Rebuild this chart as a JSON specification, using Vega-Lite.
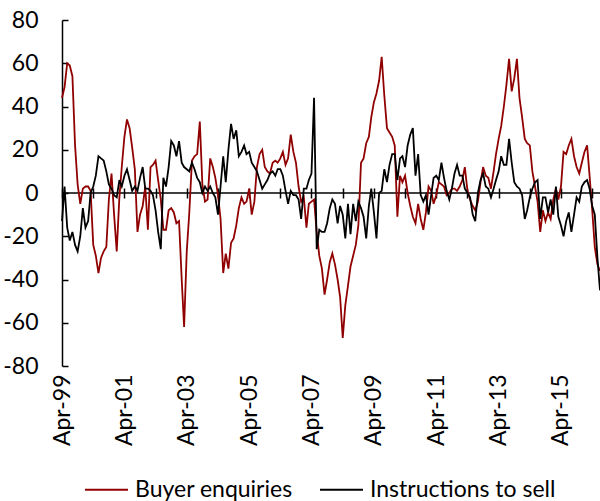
{
"$schema": "https://vega.github.io/schema/vega-lite/v6.json",
"autosize": {"type": "none"},
"padding": {"left": 62, "top": 20, "right": 0, "bottom": 135},
"width": 538,
"height": 346,
"background": "white",
"config": {"view": {"stroke": null}, "font": "Lato", "axis": {"grid": false}},
"data": {"values": [
{"month":"1999-04","Buyer enquiries":44,"Instructions to sell":-13},
{"month":"1999-05","Buyer enquiries":49,"Instructions to sell":3},
{"month":"1999-06","Buyer enquiries":60,"Instructions to sell":-16},
{"month":"1999-07","Buyer enquiries":59,"Instructions to sell":-22},
{"month":"1999-08","Buyer enquiries":54,"Instructions to sell":-18},
{"month":"1999-09","Buyer enquiries":22,"Instructions to sell":-24},
{"month":"1999-10","Buyer enquiries":4,"Instructions to sell":-27},
{"month":"1999-11","Buyer enquiries":-5,"Instructions to sell":-20},
{"month":"1999-12","Buyer enquiries":2,"Instructions to sell":-7},
{"month":"2000-01","Buyer enquiries":3,"Instructions to sell":-16},
{"month":"2000-02","Buyer enquiries":3,"Instructions to sell":-13},
{"month":"2000-03","Buyer enquiries":1,"Instructions to sell":0},
{"month":"2000-04","Buyer enquiries":-24,"Instructions to sell":3},
{"month":"2000-05","Buyer enquiries":-29,"Instructions to sell":8},
{"month":"2000-06","Buyer enquiries":-37,"Instructions to sell":17},
{"month":"2000-07","Buyer enquiries":-30,"Instructions to sell":16},
{"month":"2000-08","Buyer enquiries":-27,"Instructions to sell":15},
{"month":"2000-09","Buyer enquiries":-25,"Instructions to sell":10},
{"month":"2000-10","Buyer enquiries":-3,"Instructions to sell":4},
{"month":"2000-11","Buyer enquiries":9,"Instructions to sell":2},
{"month":"2000-12","Buyer enquiries":-10,"Instructions to sell":-1},
{"month":"2001-01","Buyer enquiries":-27,"Instructions to sell":-2},
{"month":"2001-02","Buyer enquiries":-2,"Instructions to sell":6},
{"month":"2001-03","Buyer enquiries":12,"Instructions to sell":3},
{"month":"2001-04","Buyer enquiries":26,"Instructions to sell":8},
{"month":"2001-05","Buyer enquiries":34,"Instructions to sell":11},
{"month":"2001-06","Buyer enquiries":30,"Instructions to sell":6},
{"month":"2001-07","Buyer enquiries":21,"Instructions to sell":1},
{"month":"2001-08","Buyer enquiries":11,"Instructions to sell":3},
{"month":"2001-09","Buyer enquiries":-18,"Instructions to sell":1},
{"month":"2001-10","Buyer enquiries":-10,"Instructions to sell":7},
{"month":"2001-11","Buyer enquiries":-6,"Instructions to sell":12},
{"month":"2001-12","Buyer enquiries":3,"Instructions to sell":2},
{"month":"2002-01","Buyer enquiries":-17,"Instructions to sell":2},
{"month":"2002-02","Buyer enquiries":12,"Instructions to sell":1},
{"month":"2002-03","Buyer enquiries":13,"Instructions to sell":-1},
{"month":"2002-04","Buyer enquiries":15,"Instructions to sell":-8},
{"month":"2002-05","Buyer enquiries":6,"Instructions to sell":-18},
{"month":"2002-06","Buyer enquiries":-3,"Instructions to sell":-26},
{"month":"2002-07","Buyer enquiries":-17,"Instructions to sell":7},
{"month":"2002-08","Buyer enquiries":-17,"Instructions to sell":3},
{"month":"2002-09","Buyer enquiries":-8,"Instructions to sell":12},
{"month":"2002-10","Buyer enquiries":-7,"Instructions to sell":24},
{"month":"2002-11","Buyer enquiries":-9,"Instructions to sell":22},
{"month":"2002-12","Buyer enquiries":-14,"Instructions to sell":17},
{"month":"2003-01","Buyer enquiries":-13,"Instructions to sell":24},
{"month":"2003-02","Buyer enquiries":-40,"Instructions to sell":14},
{"month":"2003-03","Buyer enquiries":-62,"Instructions to sell":12},
{"month":"2003-04","Buyer enquiries":-27,"Instructions to sell":11},
{"month":"2003-05","Buyer enquiries":-9,"Instructions to sell":10},
{"month":"2003-06","Buyer enquiries":15,"Instructions to sell":14},
{"month":"2003-07","Buyer enquiries":17,"Instructions to sell":11},
{"month":"2003-08","Buyer enquiries":18,"Instructions to sell":7},
{"month":"2003-09","Buyer enquiries":33,"Instructions to sell":5},
{"month":"2003-10","Buyer enquiries":4,"Instructions to sell":0},
{"month":"2003-11","Buyer enquiries":-4,"Instructions to sell":3},
{"month":"2003-12","Buyer enquiries":-3,"Instructions to sell":1},
{"month":"2004-01","Buyer enquiries":16,"Instructions to sell":3},
{"month":"2004-02","Buyer enquiries":12,"Instructions to sell":0},
{"month":"2004-03","Buyer enquiries":7,"Instructions to sell":-2},
{"month":"2004-04","Buyer enquiries":-1,"Instructions to sell":-10},
{"month":"2004-05","Buyer enquiries":-12,"Instructions to sell":3},
{"month":"2004-06","Buyer enquiries":-37,"Instructions to sell":17},
{"month":"2004-07","Buyer enquiries":-28,"Instructions to sell":5},
{"month":"2004-08","Buyer enquiries":-35,"Instructions to sell":20},
{"month":"2004-09","Buyer enquiries":-23,"Instructions to sell":32},
{"month":"2004-10","Buyer enquiries":-21,"Instructions to sell":25},
{"month":"2004-11","Buyer enquiries":-15,"Instructions to sell":29},
{"month":"2004-12","Buyer enquiries":-7,"Instructions to sell":17},
{"month":"2005-01","Buyer enquiries":-2,"Instructions to sell":19},
{"month":"2005-02","Buyer enquiries":-5,"Instructions to sell":22},
{"month":"2005-03","Buyer enquiries":-4,"Instructions to sell":18},
{"month":"2005-04","Buyer enquiries":2,"Instructions to sell":19},
{"month":"2005-05","Buyer enquiries":-10,"Instructions to sell":14},
{"month":"2005-06","Buyer enquiries":-4,"Instructions to sell":12},
{"month":"2005-07","Buyer enquiries":12,"Instructions to sell":10},
{"month":"2005-08","Buyer enquiries":18,"Instructions to sell":6},
{"month":"2005-09","Buyer enquiries":20,"Instructions to sell":2},
{"month":"2005-10","Buyer enquiries":12,"Instructions to sell":4},
{"month":"2005-11","Buyer enquiries":10,"Instructions to sell":6},
{"month":"2005-12","Buyer enquiries":9,"Instructions to sell":9},
{"month":"2006-01","Buyer enquiries":14,"Instructions to sell":10},
{"month":"2006-02","Buyer enquiries":15,"Instructions to sell":8},
{"month":"2006-03","Buyer enquiries":14,"Instructions to sell":11},
{"month":"2006-04","Buyer enquiries":16,"Instructions to sell":11},
{"month":"2006-05","Buyer enquiries":19,"Instructions to sell":8},
{"month":"2006-06","Buyer enquiries":13,"Instructions to sell":1},
{"month":"2006-07","Buyer enquiries":16,"Instructions to sell":-5},
{"month":"2006-08","Buyer enquiries":27,"Instructions to sell":1},
{"month":"2006-09","Buyer enquiries":19,"Instructions to sell":-1},
{"month":"2006-10","Buyer enquiries":14,"Instructions to sell":-1},
{"month":"2006-11","Buyer enquiries":3,"Instructions to sell":-3},
{"month":"2006-12","Buyer enquiries":-4,"Instructions to sell":-12},
{"month":"2007-01","Buyer enquiries":-2,"Instructions to sell":2},
{"month":"2007-02","Buyer enquiries":-16,"Instructions to sell":2},
{"month":"2007-03","Buyer enquiries":-5,"Instructions to sell":6},
{"month":"2007-04","Buyer enquiries":-4,"Instructions to sell":9},
{"month":"2007-05","Buyer enquiries":-3,"Instructions to sell":44},
{"month":"2007-06","Buyer enquiries":-18,"Instructions to sell":-26},
{"month":"2007-07","Buyer enquiries":-29,"Instructions to sell":-17},
{"month":"2007-08","Buyer enquiries":-35,"Instructions to sell":-18},
{"month":"2007-09","Buyer enquiries":-47,"Instructions to sell":-18},
{"month":"2007-10","Buyer enquiries":-40,"Instructions to sell":-14},
{"month":"2007-11","Buyer enquiries":-32,"Instructions to sell":-7},
{"month":"2007-12","Buyer enquiries":-28,"Instructions to sell":-3},
{"month":"2008-01","Buyer enquiries":-33,"Instructions to sell":-5},
{"month":"2008-02","Buyer enquiries":-40,"Instructions to sell":-14},
{"month":"2008-03","Buyer enquiries":-48,"Instructions to sell":-6},
{"month":"2008-04","Buyer enquiries":-67,"Instructions to sell":-10},
{"month":"2008-05","Buyer enquiries":-52,"Instructions to sell":-21},
{"month":"2008-06","Buyer enquiries":-43,"Instructions to sell":-5},
{"month":"2008-07","Buyer enquiries":-34,"Instructions to sell":-19},
{"month":"2008-08","Buyer enquiries":-29,"Instructions to sell":-5},
{"month":"2008-09","Buyer enquiries":-24,"Instructions to sell":-13},
{"month":"2008-10","Buyer enquiries":-15,"Instructions to sell":-4},
{"month":"2008-11","Buyer enquiries":14,"Instructions to sell":-7},
{"month":"2008-12","Buyer enquiries":16,"Instructions to sell":-11},
{"month":"2009-01","Buyer enquiries":23,"Instructions to sell":-21},
{"month":"2009-02","Buyer enquiries":26,"Instructions to sell":-6},
{"month":"2009-03","Buyer enquiries":35,"Instructions to sell":2},
{"month":"2009-04","Buyer enquiries":42,"Instructions to sell":-9},
{"month":"2009-05","Buyer enquiries":46,"Instructions to sell":-21},
{"month":"2009-06","Buyer enquiries":52,"Instructions to sell":0},
{"month":"2009-07","Buyer enquiries":63,"Instructions to sell":1},
{"month":"2009-08","Buyer enquiries":45,"Instructions to sell":11},
{"month":"2009-09","Buyer enquiries":30,"Instructions to sell":5},
{"month":"2009-10","Buyer enquiries":28,"Instructions to sell":13},
{"month":"2009-11","Buyer enquiries":26,"Instructions to sell":18},
{"month":"2009-12","Buyer enquiries":22,"Instructions to sell":18},
{"month":"2010-01","Buyer enquiries":-11,"Instructions to sell":6},
{"month":"2010-02","Buyer enquiries":8,"Instructions to sell":16},
{"month":"2010-03","Buyer enquiries":5,"Instructions to sell":17},
{"month":"2010-04","Buyer enquiries":8,"Instructions to sell":12},
{"month":"2010-05","Buyer enquiries":0,"Instructions to sell":22},
{"month":"2010-06","Buyer enquiries":-6,"Instructions to sell":27},
{"month":"2010-07","Buyer enquiries":-11,"Instructions to sell":30},
{"month":"2010-08","Buyer enquiries":-14,"Instructions to sell":8},
{"month":"2010-09","Buyer enquiries":-5,"Instructions to sell":18},
{"month":"2010-10","Buyer enquiries":-12,"Instructions to sell":-1},
{"month":"2010-11","Buyer enquiries":-17,"Instructions to sell":-4},
{"month":"2010-12","Buyer enquiries":-9,"Instructions to sell":-1},
{"month":"2011-01","Buyer enquiries":3,"Instructions to sell":-10},
{"month":"2011-02","Buyer enquiries":1,"Instructions to sell":-1},
{"month":"2011-03","Buyer enquiries":-5,"Instructions to sell":7},
{"month":"2011-04","Buyer enquiries":-1,"Instructions to sell":8},
{"month":"2011-05","Buyer enquiries":5,"Instructions to sell":6},
{"month":"2011-06","Buyer enquiries":4,"Instructions to sell":14},
{"month":"2011-07","Buyer enquiries":3,"Instructions to sell":7},
{"month":"2011-08","Buyer enquiries":-1,"Instructions to sell":1},
{"month":"2011-09","Buyer enquiries":0,"Instructions to sell":-3},
{"month":"2011-10","Buyer enquiries":2,"Instructions to sell":2},
{"month":"2011-11","Buyer enquiries":2,"Instructions to sell":9},
{"month":"2011-12","Buyer enquiries":1,"Instructions to sell":13},
{"month":"2012-01","Buyer enquiries":3,"Instructions to sell":8},
{"month":"2012-02","Buyer enquiries":6,"Instructions to sell":8},
{"month":"2012-03","Buyer enquiries":12,"Instructions to sell":2},
{"month":"2012-04","Buyer enquiries":1,"Instructions to sell":0},
{"month":"2012-05","Buyer enquiries":-3,"Instructions to sell":-2},
{"month":"2012-06","Buyer enquiries":-6,"Instructions to sell":-10},
{"month":"2012-07","Buyer enquiries":-8,"Instructions to sell":-13},
{"month":"2012-08","Buyer enquiries":-4,"Instructions to sell":0},
{"month":"2012-09","Buyer enquiries":5,"Instructions to sell":6},
{"month":"2012-10","Buyer enquiries":12,"Instructions to sell":9},
{"month":"2012-11","Buyer enquiries":8,"Instructions to sell":3},
{"month":"2012-12","Buyer enquiries":7,"Instructions to sell":2},
{"month":"2013-01","Buyer enquiries":2,"Instructions to sell":-2},
{"month":"2013-02","Buyer enquiries":10,"Instructions to sell":2},
{"month":"2013-03","Buyer enquiries":18,"Instructions to sell":6},
{"month":"2013-04","Buyer enquiries":25,"Instructions to sell":10},
{"month":"2013-05","Buyer enquiries":31,"Instructions to sell":17},
{"month":"2013-06","Buyer enquiries":40,"Instructions to sell":13},
{"month":"2013-07","Buyer enquiries":50,"Instructions to sell":13},
{"month":"2013-08","Buyer enquiries":62,"Instructions to sell":25},
{"month":"2013-09","Buyer enquiries":47,"Instructions to sell":14},
{"month":"2013-10","Buyer enquiries":53,"Instructions to sell":5},
{"month":"2013-11","Buyer enquiries":62,"Instructions to sell":3},
{"month":"2013-12","Buyer enquiries":44,"Instructions to sell":2},
{"month":"2014-01","Buyer enquiries":35,"Instructions to sell":-1},
{"month":"2014-02","Buyer enquiries":25,"Instructions to sell":-12},
{"month":"2014-03","Buyer enquiries":23,"Instructions to sell":-8},
{"month":"2014-04","Buyer enquiries":22,"Instructions to sell":-2},
{"month":"2014-05","Buyer enquiries":10,"Instructions to sell":2},
{"month":"2014-06","Buyer enquiries":3,"Instructions to sell":5},
{"month":"2014-07","Buyer enquiries":-4,"Instructions to sell":6},
{"month":"2014-08","Buyer enquiries":-18,"Instructions to sell":-12},
{"month":"2014-09","Buyer enquiries":-8,"Instructions to sell":-2},
{"month":"2014-10","Buyer enquiries":-13,"Instructions to sell":-2},
{"month":"2014-11","Buyer enquiries":-9,"Instructions to sell":-9},
{"month":"2014-12","Buyer enquiries":-12,"Instructions to sell":-3},
{"month":"2015-01","Buyer enquiries":-3,"Instructions to sell":-10},
{"month":"2015-02","Buyer enquiries":2,"Instructions to sell":3},
{"month":"2015-03","Buyer enquiries":-3,"Instructions to sell":-11},
{"month":"2015-04","Buyer enquiries":3,"Instructions to sell":-15},
{"month":"2015-05","Buyer enquiries":19,"Instructions to sell":-20},
{"month":"2015-06","Buyer enquiries":18,"Instructions to sell":-13},
{"month":"2015-07","Buyer enquiries":22,"Instructions to sell":-9},
{"month":"2015-08","Buyer enquiries":25,"Instructions to sell":-18},
{"month":"2015-09","Buyer enquiries":17,"Instructions to sell":-10},
{"month":"2015-10","Buyer enquiries":12,"Instructions to sell":-2},
{"month":"2015-11","Buyer enquiries":9,"Instructions to sell":-4},
{"month":"2015-12","Buyer enquiries":14,"Instructions to sell":3},
{"month":"2016-01","Buyer enquiries":19,"Instructions to sell":5},
{"month":"2016-02","Buyer enquiries":22,"Instructions to sell":6},
{"month":"2016-03","Buyer enquiries":8,"Instructions to sell":2},
{"month":"2016-04","Buyer enquiries":-8,"Instructions to sell":-6},
{"month":"2016-05","Buyer enquiries":-25,"Instructions to sell":-10},
{"month":"2016-06","Buyer enquiries":-33,"Instructions to sell":-30},
{"month":"2016-07","Buyer enquiries":-36,"Instructions to sell":-45}
], "format": {"parse": {"month": "utc:'%Y-%m'"}}},
"resolve": {"axis": {"x": "independent"}},
"layer": [
 {
  "data": {"values": [{}]},
  "mark": {"type": "rule", "color": "black", "strokeWidth": 1.5},
  "encoding": {
   "y": {"datum": 0, "type": "quantitative", "scale": {"domain": [-80, 80]}},
   "x": {"datum": {"year": 1999, "month": 4, "date": 1, "utc": true}, "type": "temporal",
    "scale": {"type": "utc", "domain": [{"year": 1999, "month": 4, "date": 1, "utc": true}, {"year": 2016, "month": 7, "date": 1, "utc": true}]},
    "axis": {"title": null, "orient": "bottom", "offset": -178, "domain": false, "labels": false, "ticks": true, "tickSize": 10, "tickWidth": 1.5, "tickColor": "black",
     "values": [
      {"year": 1999, "month": 4, "date": 1, "utc": true}, {"year": 2000, "month": 4, "date": 1, "utc": true},
      {"year": 2001, "month": 4, "date": 1, "utc": true}, {"year": 2002, "month": 4, "date": 1, "utc": true},
      {"year": 2003, "month": 4, "date": 1, "utc": true}, {"year": 2004, "month": 4, "date": 1, "utc": true},
      {"year": 2005, "month": 4, "date": 1, "utc": true}, {"year": 2006, "month": 4, "date": 1, "utc": true},
      {"year": 2007, "month": 4, "date": 1, "utc": true}, {"year": 2008, "month": 4, "date": 1, "utc": true},
      {"year": 2009, "month": 4, "date": 1, "utc": true}, {"year": 2010, "month": 4, "date": 1, "utc": true},
      {"year": 2011, "month": 4, "date": 1, "utc": true}, {"year": 2012, "month": 4, "date": 1, "utc": true},
      {"year": 2013, "month": 4, "date": 1, "utc": true}, {"year": 2014, "month": 4, "date": 1, "utc": true},
      {"year": 2015, "month": 4, "date": 1, "utc": true}, {"year": 2016, "month": 4, "date": 1, "utc": true}
     ]}},
   "x2": {"datum": {"year": 2016, "month": 7, "date": 1, "utc": true}}
  }
 },
 {
  "transform": [{"fold": ["Buyer enquiries", "Instructions to sell"], "as": ["series", "value"]}],
  "mark": {"type": "line", "strokeWidth": 1.8},
  "encoding": {
   "x": {"field": "month", "type": "temporal",
    "axis": {"title": null, "orient": "bottom", "domain": false, "ticks": false, "tickSize": 0, "labelAngle": -90, "labelPadding": 8,
     "labelFontSize": 23, "labelColor": "black", "labelFont": "Lato",
     "labelExpr": "utcFormat(datum.value, '%b-%y')",
     "values": [
      {"year": 1999, "month": 4, "date": 1, "utc": true}, {"year": 2001, "month": 4, "date": 1, "utc": true},
      {"year": 2003, "month": 4, "date": 1, "utc": true}, {"year": 2005, "month": 4, "date": 1, "utc": true},
      {"year": 2007, "month": 4, "date": 1, "utc": true}, {"year": 2009, "month": 4, "date": 1, "utc": true},
      {"year": 2011, "month": 4, "date": 1, "utc": true}, {"year": 2013, "month": 4, "date": 1, "utc": true},
      {"year": 2015, "month": 4, "date": 1, "utc": true}
     ]}},
   "y": {"field": "value", "type": "quantitative", "scale": {"domain": [-80, 80]},
    "axis": {"title": null, "values": [-80, -60, -40, -20, 0, 20, 40, 60, 80], "domainColor": "black", "domainWidth": 1.5,
     "labelExpr": "datum.value < 0 ? '-' + abs(datum.value) : '' + datum.value",
     "tickColor": "black", "tickWidth": 1.5, "tickSize": -6, "labelPadding": 30, "labelFontSize": 23, "labelColor": "black", "labelFont": "Lato"}},
   "color": {"field": "series", "type": "nominal",
    "scale": {"domain": ["Buyer enquiries", "Instructions to sell"], "range": ["#900000", "#000000"]},
    "legend": {"title": null, "orient": "none", "direction": "horizontal", "legendX": 22, "legendY": 447,
     "symbolType": "stroke", "symbolStrokeWidth": 1.8, "symbolSize": 1849, "labelFontSize": 23, "labelFont": "Lato", "labelColor": "black",
     "columnPadding": 23, "labelOffset": 6, "labelLimit": 400}}
  }
 }
]
}
